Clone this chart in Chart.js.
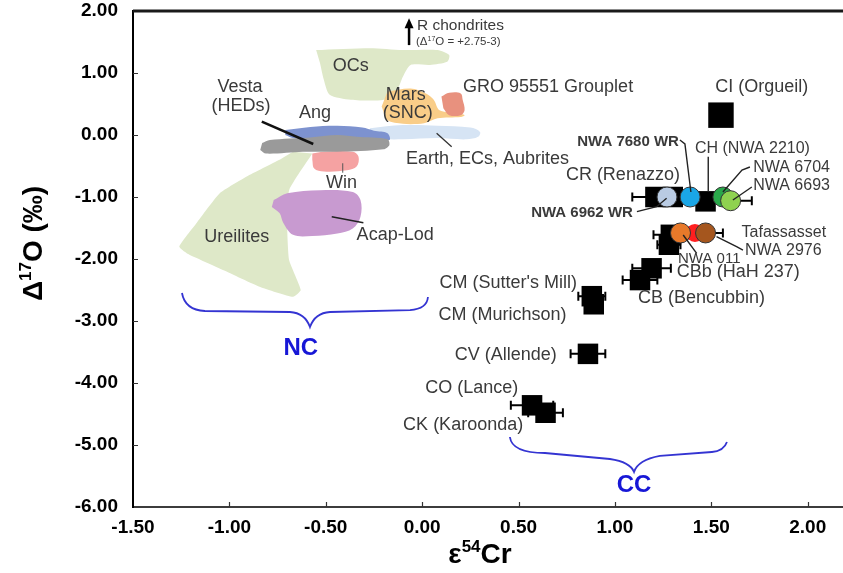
<!DOCTYPE html>
<html><head><meta charset="utf-8">
<script src="https://cdn.jsdelivr.net/npm/chart.js@4.4.1/dist/chart.umd.min.js"></script>
<style>html,body{margin:0;padding:0;background:#fff;overflow:hidden}#wrap{width:843px;height:573px;position:relative}</style>
</head><body><div id="wrap"><canvas id="c" width="843" height="573"></canvas></div>
<script>
// ---------- DATA (epsilon54Cr on x, Delta17O on y) ----------
// Carbonaceous chondrites (black squares)
const ccNames = ['CI (Orgueil)','CR (Renazzo)','CR (Renazzo)','CH (NWA 2210)','CR-related','CR-related','CBb (HaH 237)','CB (Bencubbin)',"CM (Sutter's Mill)",'CM (Murichson)','CV (Allende)','CO (Lance)','CK (Karoonda)'];
const ccCr    = [1.55, 1.21, 1.30, 1.47, 1.29, 1.28, 1.19, 1.13, 0.88, 0.89, 0.86, 0.57, 0.64];
const ccO     = [0.32,-1.00,-1.00,-1.07,-1.61,-1.77,-2.15,-2.34,-2.60,-2.73,-3.53,-4.36,-4.48];
const ccCrErr = [0,    0.12, 0,    0,    0.09, 0.06, 0.10, 0.09, 0.07, 0,    0.09, 0.11, 0.09];

// Ungrouped meteorites (coloured circles)
const ugNames = ['Tafassasset','NWA 6962 WR','NWA 7680 WR','NWA 6704','NWA 6693','NWA 011','NWA 2976'];
const ugCr    = [1.415, 1.27, 1.39, 1.56, 1.60, 1.34, 1.47];
const ugO     = [-1.58,-1.00,-1.00,-1.00,-1.06,-1.58,-1.58];
const ugCrErr = [0,     0,    0,    0,    0.11, 0,    0.09];

// Fields (outline vertices)
const ureiliteCr = [-0.57,-0.69,-0.70,-0.69,-0.63,-0.67,-0.84,-1.03,-1.22,-1.26,-1.17,-1.05,-0.91,-0.74,-0.67];
const ureiliteO  = [-0.30,-0.89,-1.48,-2.02,-2.50,-2.61,-2.45,-2.18,-1.91,-1.80,-1.42,-0.94,-0.67,-0.40,-0.27];
const ocCr = [-0.55,-0.27,-0.10,0.08,0.14,0.13,0.04,-0.06,-0.10,-0.13,-0.20,-0.37,-0.48,-0.51,-0.53];
const ocO  = [1.37,1.40,1.37,1.37,1.29,1.18,1.13,1.13,0.94,0.73,0.57,0.57,0.65,0.89,1.16];
const marsCr = [-0.18,-0.06,0.02,0.06,0.09,0.18,0.22,0.20,0.08,0.01,-0.10,-0.18,-0.21];
const marsO  = [0.70,0.75,0.67,0.57,0.40,0.35,0.32,0.29,0.27,0.19,0.18,0.24,0.46];
const groCr = [0.10,0.14,0.20,0.21,0.22,0.20,0.14,0.11];
const groO  = [0.62,0.68,0.67,0.57,0.40,0.32,0.32,0.43];
const angCr = [-0.71,-0.58,-0.44,-0.31,-0.25,-0.18,-0.17,-0.27,-0.57,-0.67,-0.71];
const angO  = [0.08,0.13,0.15,0.12,0.07,0.03,-0.08,-0.08,-0.08,-0.05,0.00];
const earthCr = [-0.27,-0.10,0.08,0.25,0.30,0.29,0.23,0.08,-0.10,-0.24,-0.28];
const earthO  = [0.11,0.16,0.15,0.12,0.05,-0.03,-0.07,-0.05,-0.07,-0.05,0.03];
const vestaCr = [-0.83,-0.79,-0.58,-0.44,-0.34,-0.18,-0.17,-0.20,-0.44,-0.62,-0.81,-0.84];
const vestaO  = [-0.13,-0.08,-0.04,0.00,-0.03,-0.07,-0.16,-0.23,-0.27,-0.27,-0.30,-0.24];
const winCr = [-0.57,-0.51,-0.36,-0.33,-0.34,-0.39,-0.51,-0.56,-0.57];
const winO  = [-0.30,-0.27,-0.27,-0.35,-0.51,-0.57,-0.59,-0.54,-0.40];
const acapCr = [-0.77,-0.70,-0.53,-0.36,-0.32,-0.32,-0.36,-0.44,-0.57,-0.67,-0.72,-0.74,-0.78];
const acapO  = [-1.05,-0.94,-0.89,-0.92,-1.05,-1.32,-1.51,-1.59,-1.63,-1.61,-1.42,-1.26,-1.16];

// Axis ticks
const xTicks = [-1.5,-1.0,-0.5,0.0,0.5,1.0,1.5,2.0];
const yTicks = [2,1,0,-1,-2,-3,-4,-5,-6];

// ---------- helpers ----------
const FONT = '"Liberation Sans", Arial, sans-serif';
const zip = (xs, ys) => xs.map((x, i) => ({x, y: ys[i]}));
const fmt = v => (Math.abs(v) < 1e-9 ? 0 : v).toFixed(2);

function field(label, xs, ys, color, order, tension) {
  return {label, data: zip(xs, ys), showLine: true, fill: 'shape', backgroundColor: color,
    borderColor: 'rgba(0,0,0,0)', borderWidth: 0, pointRadius: 0, tension: tension, order};
}

// Annotation content (in data units)
const labels = [
  {t:'OCs', x:-0.37, y:1.11, s:18, a:'center'},
  {t:'Vesta', x:-0.945, y:0.77, s:18, a:'center'},
  {t:'(HEDs)', x:-0.94, y:0.46, s:18, a:'center'},
  {t:'Ang', x:-0.556, y:0.35, s:18, a:'center'},
  {t:'Mars', x:-0.085, y:0.645, s:18, a:'center'},
  {t:'(SNC)', x:-0.075, y:0.35, s:18, a:'center'},
  {t:'GRO 95551 Grouplet', x:0.212, y:0.77, s:18, a:'left'},
  {t:'Earth, ECs, Aubrites', x:-0.084, y:-0.392, s:18, a:'left'},
  {t:'Win', x:-0.418, y:-0.769, s:18, a:'center'},
  {t:'Acap-Lod', x:-0.34, y:-1.613, s:18, a:'left'},
  {t:'Ureilites', x:-0.962, y:-1.64, s:18, a:'center'},
  {t:'R chondrites', x:-0.027, y:1.758, s:15.5, a:'left'},
  {t:'CI (Orgueil)', x:1.761, y:0.779, s:18, a:'center'},
  {t:'NWA 7680 WR', x:1.332, y:-0.108, s:15, a:'right', b:true},
  {t:'CH (NWA 2210)', x:1.415, y:-0.215, s:16, a:'left'},
  {t:'CR (Renazzo)', x:1.337, y:-0.645, s:18, a:'right'},
  {t:'NWA 6704', x:1.717, y:-0.521, s:16, a:'left'},
  {t:'NWA 6693', x:1.717, y:-0.823, s:16, a:'left'},
  {t:'NWA 6962 WR', x:1.093, y:-1.253, s:15, a:'right', b:true},
  {t:'Tafassasset', x:1.657, y:-1.581, s:16, a:'left'},
  {t:'NWA 2976', x:1.674, y:-1.866, s:16, a:'left'},
  {t:'NWA 011', x:1.327, y:-2.0, s:15, a:'left'},
  {t:'CBb (HaH 237)', x:1.320, y:-2.205, s:18, a:'left'},
  {t:'CB (Bencubbin)', x:1.119, y:-2.629, s:18, a:'left'},
  {t:"CM (Sutter's Mill)", x:0.803, y:-2.387, s:18, a:'right'},
  {t:'CM (Murichson)', x:0.749, y:-2.903, s:18, a:'right'},
  {t:'CV (Allende)', x:0.698, y:-3.548, s:18, a:'right'},
  {t:'CO (Lance)', x:0.498, y:-4.081, s:18, a:'right'},
  {t:'CK (Karoonda)', x:0.524, y:-4.677, s:18, a:'right'},
  {t:'NC', x:-0.63, y:-3.435, s:24, a:'center', b:true, c:'#1717d6'},
  {t:'CC', x:1.099, y:-5.645, s:24, a:'center', b:true, c:'#1717d6'}
];
const leaders = [
  {p:[[-0.832,0.215],[-0.565,-0.145]], w:2.5, c:'#111'},
  {p:[[0.075,0.027],[0.153,-0.189]], w:1.3, c:'#333'},
  {p:[[-0.412,-0.456],[-0.412,-0.608]], w:1, c:'#555'},
  {p:[[-0.469,-1.318],[-0.305,-1.415]], w:1.5, c:'#222'},
  {p:[[1.337,-0.081],[1.363,-0.145],[1.394,-0.919]], w:1.4, c:'#222'},
  {p:[[1.484,-0.35],[1.484,-0.915]], w:1.4, c:'#222'},
  {p:[[1.70,-0.516],[1.659,-0.565],[1.56,-0.919]], w:1.4, c:'#222'},
  {p:[[1.71,-0.839],[1.612,-1.048]], w:1.4, c:'#222'},
  {p:[[1.114,-1.237],[1.216,-1.156],[1.268,-1.021]], w:1.4, c:'#222'},
  {p:[[1.664,-1.855],[1.631,-1.802],[1.527,-1.64]], w:1.4, c:'#222'},
  {p:[[1.354,-1.613],[1.424,-1.908]], w:1.4, c:'#222'}
];
const braces = [
  [['M',-1.246,-2.548],['Q',-1.230,-2.823,-1.127,-2.839],['L',-0.686,-2.855],['Q',-0.608,-2.871,-0.582,-3.097],
   ['Q',-0.556,-2.871,-0.478,-2.855],['L',-0.063,-2.823],['Q',0.025,-2.806,0.030,-2.613]],
  [['M',0.455,-4.871],['Q',0.466,-5.129,0.637,-5.129],['L',0.974,-5.226],['Q',1.078,-5.274,1.099,-5.435],
   ['Q',1.120,-5.242,1.233,-5.177],['L',1.503,-5.113],['Q',1.565,-5.097,1.581,-4.952]]
];

// ---------- plugins ----------
const errorBars = {
  id: 'errorBars',
  beforeDatasetsDraw(chart) {
    const ctx = chart.ctx, xs = chart.scales.x, ys = chart.scales.y;
    ctx.save();
    ctx.strokeStyle = '#000'; ctx.lineWidth = 2;
    chart.data.datasets.forEach(ds => {
      if (!ds.errX) return;
      ds.data.forEach((pt, i) => {
        const e = ds.errX[i]; if (!e) return;
        const y = ys.getPixelForValue(pt.y);
        const x1 = xs.getPixelForValue(pt.x - e), x2 = xs.getPixelForValue(pt.x + e);
        ctx.beginPath();
        ctx.moveTo(x1, y); ctx.lineTo(x2, y);
        ctx.moveTo(x1, y - 4.5); ctx.lineTo(x1, y + 4.5);
        ctx.moveTo(x2, y - 4.5); ctx.lineTo(x2, y + 4.5);
        ctx.stroke();
      });
    });
    ctx.restore();
  }
};

function rich(ctx, parts, x, y, align) {
  let w = 0;
  parts.forEach(p => { ctx.font = p.f; p.w = ctx.measureText(p.t).width; w += p.w; });
  let cx = align === 'center' ? x - w / 2 : align === 'right' ? x - w : x;
  ctx.textAlign = 'left';
  parts.forEach(p => { ctx.font = p.f; ctx.fillText(p.t, cx, y + (p.dy || 0)); cx += p.w; });
}

const annot = {
  id: 'annot',
  afterDraw(chart) {
    const ctx = chart.ctx, xs = chart.scales.x, ys = chart.scales.y, ca = chart.chartArea;
    const X = v => xs.getPixelForValue(v), Y = v => ys.getPixelForValue(v);
    ctx.save();
    // top border
    ctx.strokeStyle = '#1a1a1a'; ctx.lineWidth = 3;
    ctx.beginPath(); ctx.moveTo(ca.left, ca.top); ctx.lineTo(ca.right, ca.top); ctx.stroke();
    // inward ticks
    ctx.strokeStyle = '#333'; ctx.lineWidth = 1.2;
    ctx.beginPath();
    xTicks.forEach(v => { if (v > -1.5) { const x = Math.round(X(v)) + 0.5; ctx.moveTo(x, ca.bottom); ctx.lineTo(x, ca.bottom - 5); } });
    yTicks.forEach(v => { if (v > -6 && v < 2) { const y = Math.round(Y(v)) + 0.5; ctx.moveTo(ca.left, y); ctx.lineTo(ca.left + 5, y); } });
    ctx.stroke();
    // leaders
    leaders.forEach(l => {
      ctx.strokeStyle = l.c; ctx.lineWidth = l.w; ctx.beginPath();
      l.p.forEach((q, i) => i ? ctx.lineTo(X(q[0]), Y(q[1])) : ctx.moveTo(X(q[0]), Y(q[1])));
      ctx.stroke();
    });
    // braces
    ctx.strokeStyle = '#3434d2'; ctx.lineWidth = 1.8;
    braces.forEach(b => {
      ctx.beginPath();
      b.forEach(s => {
        if (s[0] === 'M') ctx.moveTo(X(s[1]), Y(s[2]));
        else if (s[0] === 'L') ctx.lineTo(X(s[1]), Y(s[2]));
        else ctx.quadraticCurveTo(X(s[1]), Y(s[2]), X(s[3]), Y(s[4]));
      });
      ctx.stroke();
    });
    // R chondrites arrow
    const ax = X(-0.068), ay0 = Y(1.45), ay1 = Y(1.885);
    ctx.strokeStyle = '#000'; ctx.fillStyle = '#000'; ctx.lineWidth = 2.5;
    ctx.beginPath(); ctx.moveTo(ax, ay0); ctx.lineTo(ax, ay1 + 8); ctx.stroke();
    ctx.beginPath(); ctx.moveTo(ax, ay1); ctx.lineTo(ax - 4.5, ay1 + 10); ctx.lineTo(ax + 4.5, ay1 + 10); ctx.closePath(); ctx.fill();
    // labels
    ctx.textBaseline = 'middle';
    labels.forEach(l => {
      ctx.fillStyle = l.c || '#3a3a3a';
      ctx.font = (l.b ? 'bold ' : '') + l.s + 'px ' + FONT;
      ctx.textAlign = l.a;
      ctx.fillText(l.t, X(l.x), Y(l.y));
    });
    ctx.fillStyle = '#3a3a3a';
    rich(ctx, [
      {t:'(\u0394', f:'11.5px ' + FONT},
      {t:'17', f:'7px ' + FONT, dy:-3},
      {t:'O = +2.75-3)', f:'11.5px ' + FONT}
    ], X(-0.032), Y(1.505), 'left');
    // axis titles
    ctx.fillStyle = '#000';
    ctx.textBaseline = 'alphabetic';
    rich(ctx, [
      {t:'\u03b5', f:'bold 28px ' + FONT},
      {t:'54', f:'bold 17px ' + FONT, dy:-11},
      {t:'Cr', f:'bold 28px ' + FONT}
    ], X(0.3), 563, 'center');
    ctx.save();
    ctx.translate(42, Y(-1.75));
    ctx.rotate(-Math.PI / 2);
    rich(ctx, [
      {t:'\u0394', f:'bold 28px ' + FONT},
      {t:'17', f:'bold 17px ' + FONT, dy:-11},
      {t:'O (\u2030)', f:'bold 28px ' + FONT}
    ], 0, 0, 'center');
    ctx.restore();
    ctx.restore();
  }
};

// ---------- chart ----------
const tickFont = {family: FONT, size: 19, weight: 'bold'};
new Chart(document.getElementById('c'), {
  type: 'scatter',
  data: {
    datasets: [
      {label: 'Ungrouped', data: zip(ugCr, ugO), errX: ugCrErr, order: 0,
        pointStyle: 'circle',
        pointRadius: [9, 10, 10, 10, 10, 10, 10],
        backgroundColor: ['#ff1f1f', '#b9cbe3', '#1aa6e6', '#2aa84a', '#8fd250', '#e8792a', '#a5561e'],
        borderColor: ['rgba(0,0,0,0)', '#333', '#333', '#333', '#333', '#333', '#333'],
        borderWidth: 1},
      {label: 'Carbonaceous chondrites', data: zip(ccCr, ccO), errX: ccCrErr, order: 1,
        pointStyle: 'rect',
        pointRadius: [18, 14.5, 14.5, 14.5, 14.5, 14.5, 14.5, 14.5, 14.5, 14.5, 14.5, 14.5, 14.5],
        backgroundColor: '#000', borderColor: '#000', borderWidth: 0},
      field('Vesta (HEDs)', vestaCr, vestaO, '#9a9a9a', 2, 0.3),
      field('Earth, ECs, Aubrites', earthCr, earthO, '#d6e4f4', 4, 0.35),
      field('Ang', angCr, angO, '#7d92cf', 3, 0.35),
      field('Win', winCr, winO, '#f5a2a2', 5, 0.35),
      field('Acap-Lod', acapCr, acapO, '#c89ad0', 6, 0.35),
      field('GRO 95551 Grouplet', groCr, groO, '#e8917e', 7, 0.35),
      field('Mars (SNC)', marsCr, marsO, '#f9cd88', 8, 0.3),
      field('OCs', ocCr, ocO, '#dee8c8', 9, 0.25),
      field('Ureilites', ureiliteCr, ureiliteO, '#dee8c8', 10, 0.15)
    ]
  },
  options: {
    responsive: false, devicePixelRatio: 1, animation: false,
    layout: {autoPadding: false, padding: {top: 11, right: 0, left: 0, bottom: 0}},
    plugins: {legend: {display: false}, tooltip: {enabled: false}},
    scales: {
      x: {type: 'linear', min: -1.5, max: 2.183,
        afterFit(s) { s.height = 66; s.paddingLeft = 0; s.paddingRight = 0; },
        afterBuildTicks(s) { s.ticks = xTicks.map(v => ({value: v})); },
        ticks: {padding: 9, color: '#000', font: tickFont, callback: v => fmt(v), maxRotation: 0, autoSkip: false},
        grid: {display: false, drawTicks: false},
        border: {display: true, color: '#3c3c3c', width: 2}},
      y: {type: 'linear', min: -6, max: 2,
        afterFit(s) { s.width = 133; s.paddingTop = 0; s.paddingBottom = 0; },
        afterBuildTicks(s) { s.ticks = yTicks.map(v => ({value: v})); },
        ticks: {padding: 15, color: '#000', font: tickFont, callback: v => fmt(v), autoSkip: false},
        grid: {display: false, drawTicks: false},
        border: {display: true, color: '#000', width: 2}}
    }
  },
  plugins: [errorBars, annot]
});
</script></body></html>
